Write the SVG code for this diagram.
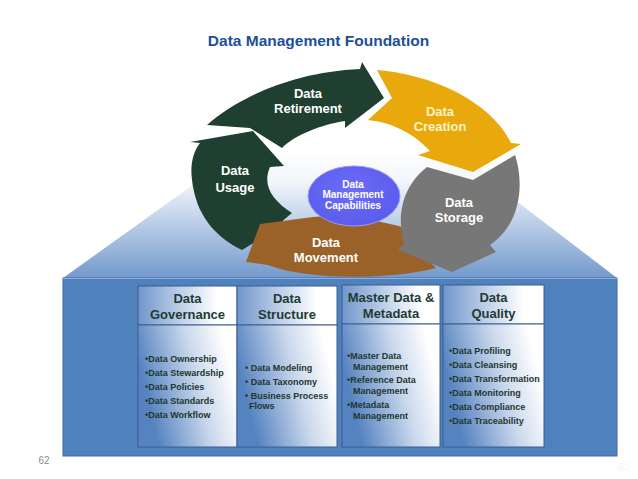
<svg xmlns="http://www.w3.org/2000/svg" width="638" height="479" viewBox="0 0 638 479">
<defs>
<linearGradient id="topFace" x1="0" y1="150" x2="0" y2="278" gradientUnits="userSpaceOnUse">
<stop offset="0" stop-color="#ffffff"/>
<stop offset="0.25" stop-color="#f2f6fb"/>
<stop offset="1" stop-color="#7399cd"/>
</linearGradient>
<linearGradient id="hdr" x1="0" y1="0" x2="1" y2="0">
<stop offset="0" stop-color="#7096cb"/>
<stop offset="0.45" stop-color="#c2d2ea"/>
<stop offset="0.8" stop-color="#ffffff"/>
</linearGradient>
<linearGradient id="body" x1="0" y1="0.3" x2="1" y2="0">
<stop offset="0" stop-color="#5583c0"/>
<stop offset="0.5" stop-color="#c9d7ec"/>
<stop offset="0.85" stop-color="#ffffff"/>
</linearGradient>
<radialGradient id="core" cx="0.45" cy="0.4" r="0.6">
<stop offset="0" stop-color="#6c6cf8"/>
<stop offset="1" stop-color="#5c5ced"/>
</radialGradient>
<style>
.lbl{font-family:"Liberation Sans",Arial,sans-serif;font-weight:bold;text-anchor:middle}
.cyc{font-size:13px;fill:#ffffff}
.hd{font-size:13px;fill:#1f3b36}
.it{font-family:"Liberation Sans",Arial,sans-serif;font-weight:bold;font-size:9px;fill:#22372f}
.col{stroke:#3a5f90;stroke-width:1}
</style>
</defs>
<rect width="638" height="479" fill="#ffffff"/>
<text x="318.5" y="46" font-family="Liberation Sans, Arial, sans-serif" font-weight="bold" font-size="15.5" fill="#1d4f9b" text-anchor="middle">Data Management Foundation</text>

<g id="foundation">
<polygon points="63,278 617,278 515,200 460,150 240,150 190,187" fill="url(#topFace)"/>
<rect x="63" y="278" width="554" height="178" fill="#4f81bd" stroke="#3d6ba5" stroke-width="1"/>
<line x1="63" y1="278.5" x2="617" y2="278.5" stroke="#8fb0dc" stroke-width="1"/>
</g>

<g id="col-governance">
<rect class="col" x="138" y="286" width="99" height="39" fill="url(#hdr)"/>
<rect class="col" x="138" y="325" width="99" height="122" fill="url(#body)"/>
<text class="lbl hd" x="187.5" y="302.5">Data</text>
<text class="lbl hd" x="187.5" y="318.5">Governance</text>
<text class="it" x="145" y="362">•Data Ownership</text>
<text class="it" x="145" y="376">•Data Stewardship</text>
<text class="it" x="145" y="390">•Data Policies</text>
<text class="it" x="145" y="404">•Data Standards</text>
<text class="it" x="145" y="418">•Data Workflow</text>
</g>

<g id="col-structure">
<rect class="col" x="237" y="286" width="100" height="39" fill="url(#hdr)"/>
<rect class="col" x="237" y="325" width="100" height="122" fill="url(#body)"/>
<text class="lbl hd" x="287" y="302.5">Data</text>
<text class="lbl hd" x="287" y="318.5">Structure</text>
<text class="it" x="245" y="371">• Data Modeling</text>
<text class="it" x="245" y="385">• Data Taxonomy</text>
<text class="it" x="245" y="399">• Business Process</text>
<text class="it" x="249" y="409">Flows</text>
</g>

<g id="col-master">
<rect class="col" x="342" y="285" width="98" height="39" fill="url(#hdr)"/>
<rect class="col" x="342" y="324" width="98" height="123" fill="url(#body)"/>
<text class="lbl hd" x="391" y="301.5">Master Data &amp;</text>
<text class="lbl hd" x="391" y="317.5">Metadata</text>
<text class="it" x="347" y="359">•Master Data</text>
<text class="it" x="353" y="370">Management</text>
<text class="it" x="347" y="383">•Reference Data</text>
<text class="it" x="353" y="394">Management</text>
<text class="it" x="347" y="408">•Metadata</text>
<text class="it" x="353" y="419">Management</text>
</g>

<g id="col-quality">
<rect class="col" x="443" y="285" width="101" height="39" fill="url(#hdr)"/>
<rect class="col" x="443" y="324" width="101" height="123" fill="url(#body)"/>
<text class="lbl hd" x="493.5" y="301.5">Data</text>
<text class="lbl hd" x="493.5" y="317.5">Quality</text>
<text class="it" x="449" y="354">•Data Profiling</text>
<text class="it" x="449" y="368">•Data Cleansing</text>
<text class="it" x="449" y="382">•Data Transformation</text>
<text class="it" x="449" y="396">•Data Monitoring</text>
<text class="it" x="449" y="410">•Data Compliance</text>
<text class="it" x="449" y="424">•Data Traceability</text>
</g>

<g id="usage">
<path d="M190,142 L253,131 L284,166 L270,167 C262,185 272,200 292,213 L262,238 L242,250 C215,237 196,215 192,180 C190,165 193,152 200,143 Z" fill="#1f3f31"/>
<text class="lbl cyc" x="235" y="175">Data</text>
<text class="lbl cyc" x="235" y="192">Usage</text>
</g>

<g id="movement">
<path d="M402,227 C380,221 345,214 313,217 L260,224 L246,262 L268,265 C300,278 380,282 436,268 L420,252 Z" fill="#9a6229"/>
<text class="lbl cyc" x="326" y="247">Data</text>
<text class="lbl cyc" x="326" y="262">Movement</text>
</g>

<g id="storage">
<path d="M427,167 L473,180 L515,155 C525,185 520,225 490,245 L496,252 L452,272 L398,250 L404,244 C398,222 398,190 427,167 Z" fill="#777777"/>
<text class="lbl cyc" x="459" y="207">Data</text>
<text class="lbl cyc" x="459" y="222">Storage</text>
</g>

<g id="creation">
<path d="M377,70 C430,74 490,100 511,143 L521,144 L473,172 L418,155 L430,151 C415,135 395,123 368,120 L392,98 Z" fill="#e9a80c"/>
<text class="lbl cyc" x="440" y="116" style="fill:#fff3c4">Data</text>
<text class="lbl cyc" x="440" y="131" style="fill:#fff3c4">Creation</text>
</g>

<g id="retirement">
<path d="M207,125 C235,100 290,72 360,69 L362,62 L384,98 L345,128 L345,121 C320,125 295,135 282,148 L250,128 Z" fill="#1f3f31"/>
<text class="lbl cyc" x="308" y="98">Data</text>
<text class="lbl cyc" x="308" y="113">Retirement</text>
</g>

<g id="capabilities">
<ellipse cx="354" cy="196" rx="46" ry="30" fill="url(#core)" stroke="#9a9af0" stroke-width="1"/>
<text class="lbl" x="353" y="187.5" font-size="10" fill="#ffffff">Data</text>
<text class="lbl" x="353" y="198" font-size="10" fill="#ffffff">Management</text>
<text class="lbl" x="353" y="208.5" font-size="10" fill="#ffffff">Capabilities</text>
</g>

<g id="connectors"></g>

<text x="44" y="464" font-family="Liberation Sans, Arial, sans-serif" font-size="10" fill="#8c8c8c" text-anchor="middle">62</text>
<text x="624" y="471" font-family="Liberation Sans, Arial, sans-serif" font-size="10" fill="#f3f3f3" text-anchor="middle">62</text>
</svg>
